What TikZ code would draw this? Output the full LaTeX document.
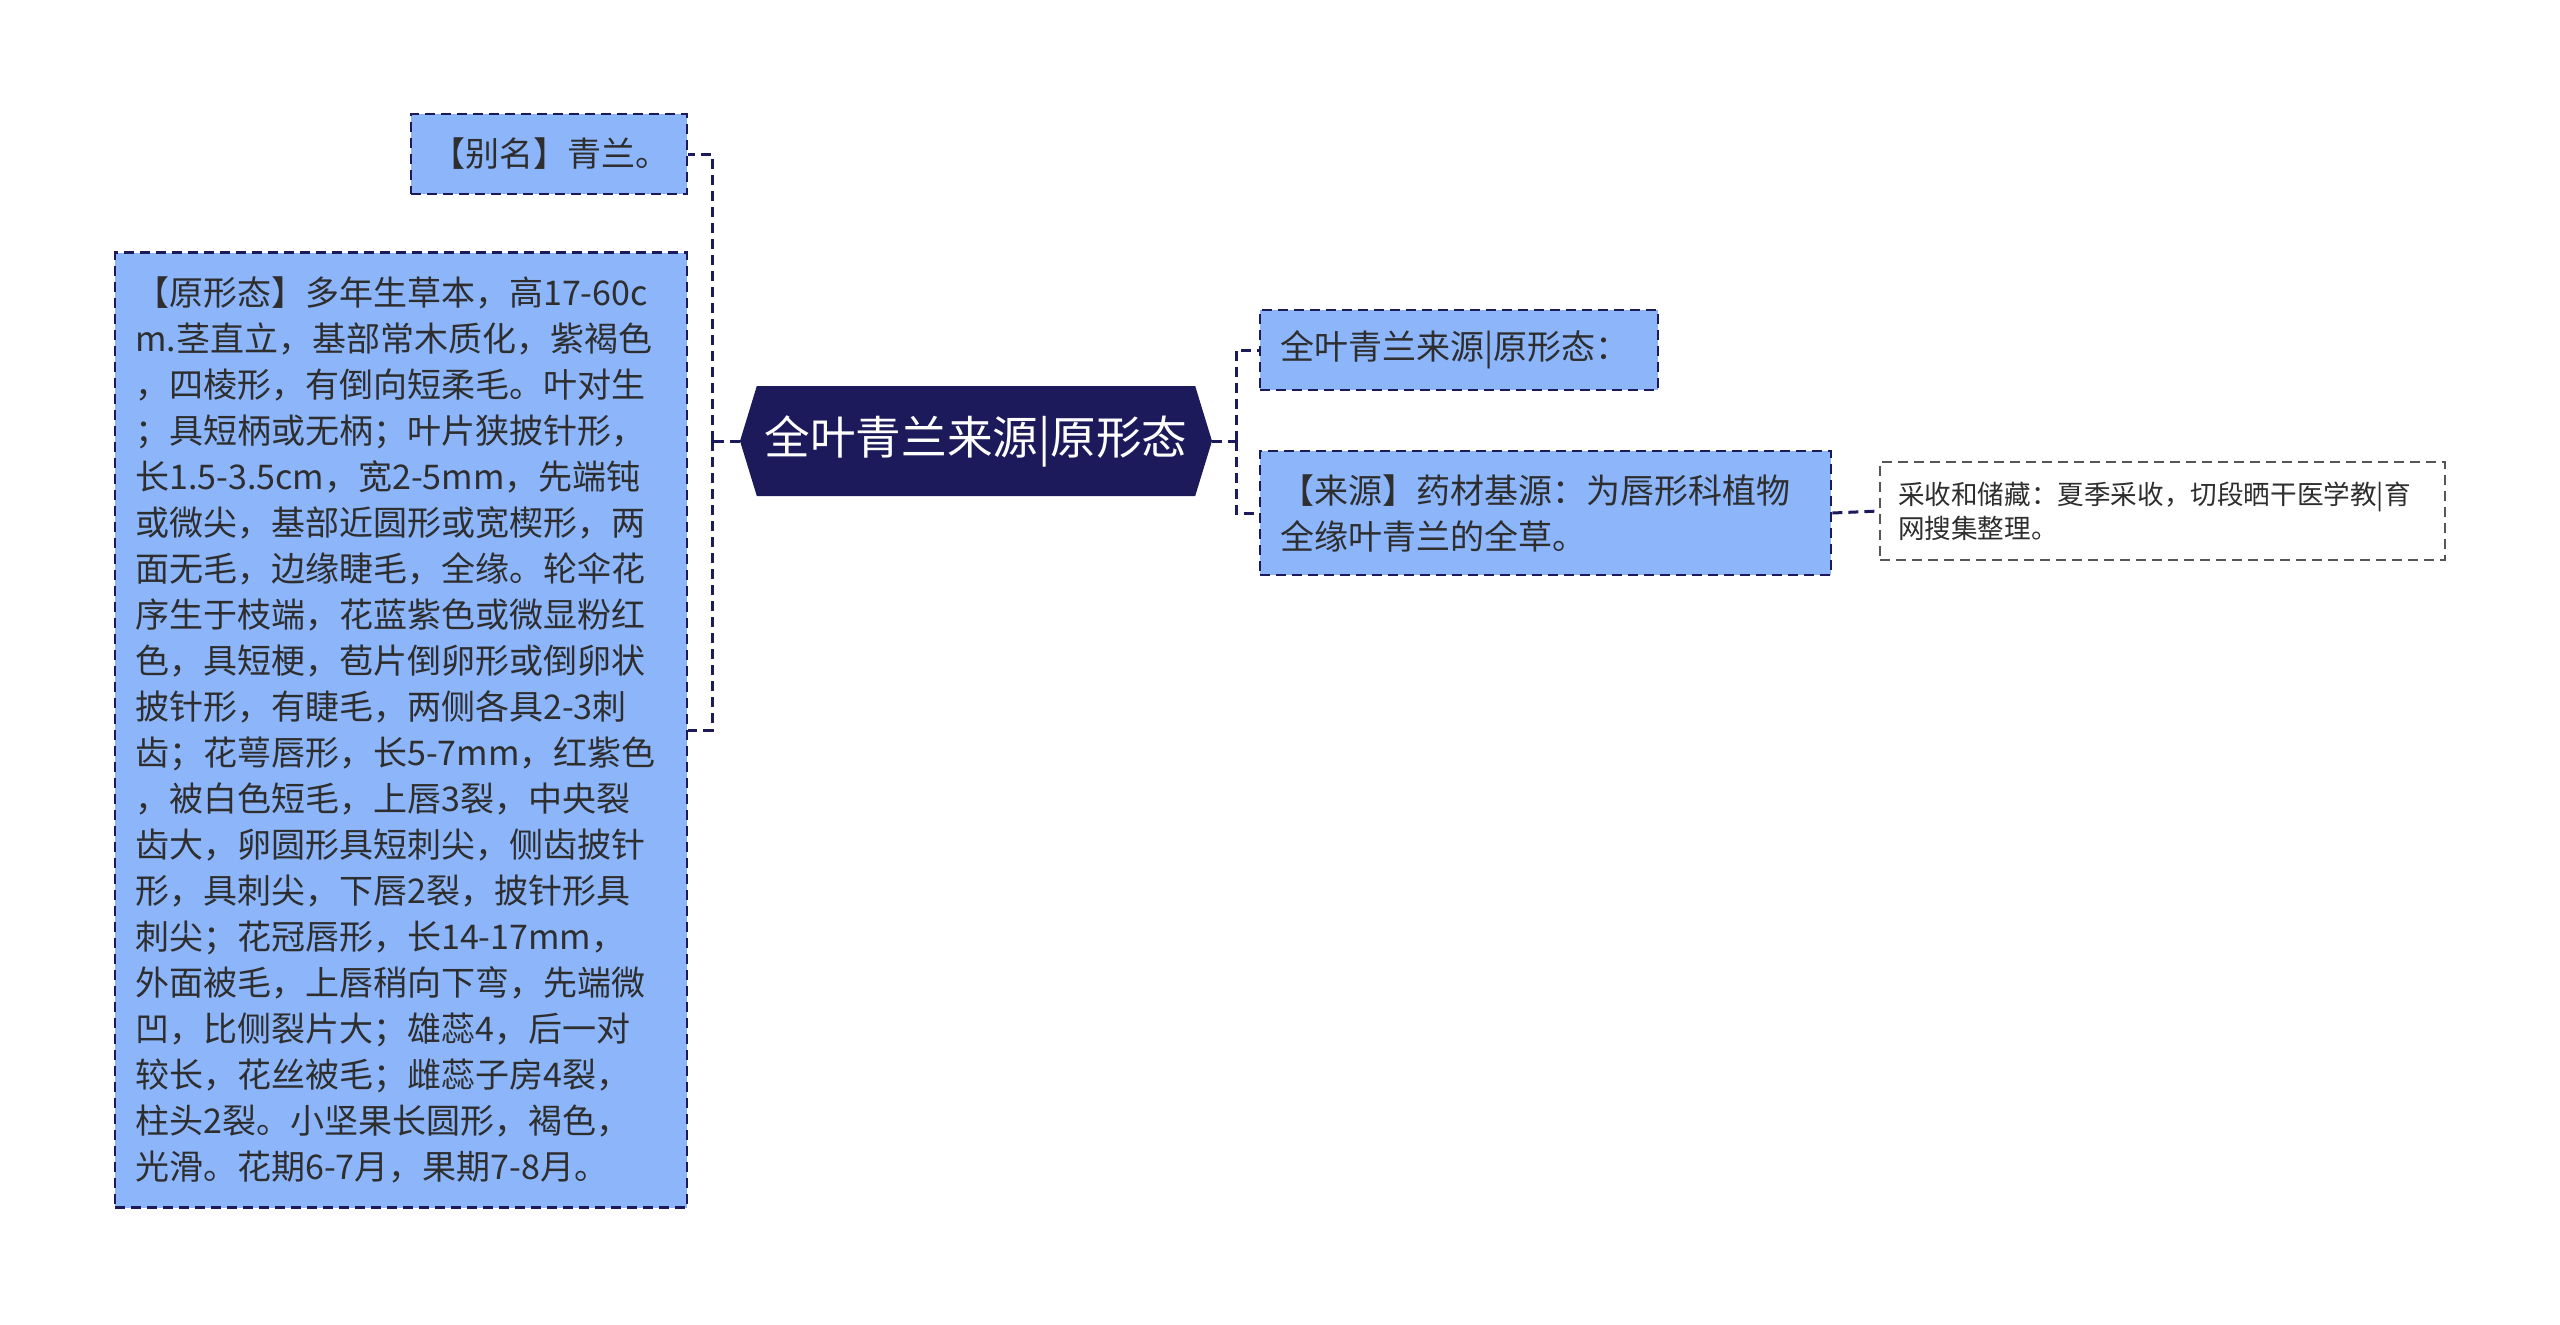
\documentclass[tikz,border=0pt]{standalone}
\usepackage{fontspec}
\setmainfont{Noto Sans CJK SC}
\usepackage{tikz}
\usepackage{xcolor}
\usetikzlibrary{
  positioning, shapes.symbols,
}
\definecolor{cNavy}{HTML}{1C1A5A}
\definecolor{cLeaf}{HTML}{8CB5FA}
\definecolor{cText}{HTML}{2E2E2E}
\definecolor{cNote}{HTML}{555555}

\begin{document}
\begin{tikzpicture}[x=0.5pt, y=-0.5pt,
    topic/.style={shape=signal, signal to=west and east, signal pointer angle=146,
      fill=cNavy, text=white, font=\fontsize{22.8pt}{27pt}\selectfont,
      minimum width=236pt, minimum height=55pt, inner sep=2pt},
    leaf/.style={draw=cNavy, line width=1.2pt, dash pattern=on 5pt off 3pt,
      fill=cLeaf, text=cText, align=left, anchor=west, inner xsep=10pt, inner ysep=0pt,
      font=\fontsize{17pt}{23pt}\selectfont},
    note/.style={leaf, draw=cNote, line width=1pt, fill=white,
      font=\fontsize{13.3pt}{17pt}\selectfont},
    link/.style={draw=cNavy, line width=1.5pt, dash pattern=on 5pt off 3pt},
  ]
  \useasboundingbox (0,0) rectangle (2560,1324);

  % central topic
  \node[topic] (topic) at (976,441) {全叶青兰来源|原形态};

  % left branch
  \node[leaf, minimum width=138pt, text width=118pt, minimum height=40pt] (bieming) at (410,154) {【别名】青兰。};
  \node[leaf, minimum width=286pt, text width=266pt, minimum height=477.5pt] (yuanxing) at (114,730) {%
    【原形态】多年生草本，高17-60c\\
    m.茎直立，基部常木质化，紫褐色\\
    ，四棱形，有倒向短柔毛。叶对生\\
    ；具短柄或无柄；叶片狭披针形，\\
    长1.5-3.5cm，宽2-5mm，先端钝\\
    或微尖，基部近圆形或宽楔形，两\\
    面无毛，边缘睫毛，全缘。轮伞花\\
    序生于枝端，花蓝紫色或微显粉红\\
    色，具短梗，苞片倒卵形或倒卵状\\
    披针形，有睫毛，两侧各具2-3刺\\
    齿；花萼唇形，长5-7mm，红紫色\\
    ，被白色短毛，上唇3裂，中央裂\\
    齿大，卵圆形具短刺尖，侧齿披针\\
    形，具刺尖，下唇2裂，披针形具\\
    刺尖；花冠唇形，长14-17mm，\\
    外面被毛，上唇稍向下弯，先端微\\
    凹，比侧裂片大；雄蕊4，后一对\\
    较长，花丝被毛；雌蕊子房4裂，\\
    柱头2裂。小坚果长圆形，褐色，\\
    光滑。花期6-7月，果期7-8月。};

  % right branch
  \node[leaf, minimum width=199pt, text width=179pt, minimum height=40pt] (title) at (1259,350) {全叶青兰来源|原形态：};
  \node[leaf, minimum width=285.5pt, text width=265.5pt, minimum height=62pt] (laiyuan) at (1259,513) {%
    【来源】药材基源：为唇形科植物\\
    全缘叶青兰的全草。};
  \node[note, minimum width=282.5pt, text width=264.5pt, inner xsep=9pt, minimum height=49pt] (caishou) at (1879,511) {%
    采收和储藏：夏季采收，切段晒干医学教|育\\
    网搜集整理。};

  % connectors
  \coordinate (lhub) at (712,441);
  \coordinate (rhub) at (1236,441);
  \draw[link] (topic.west) -- (lhub);
  \draw[link] (lhub) |- (bieming.east);
  \draw[link] (lhub) |- (yuanxing.east);
  \draw[link] (topic.east) -- (rhub);
  \draw[link] (rhub) |- (title.west);
  \draw[link] (rhub) |- (laiyuan.west);
  \draw[link] (laiyuan.east) -- (caishou.west);
\end{tikzpicture}
\end{document}
